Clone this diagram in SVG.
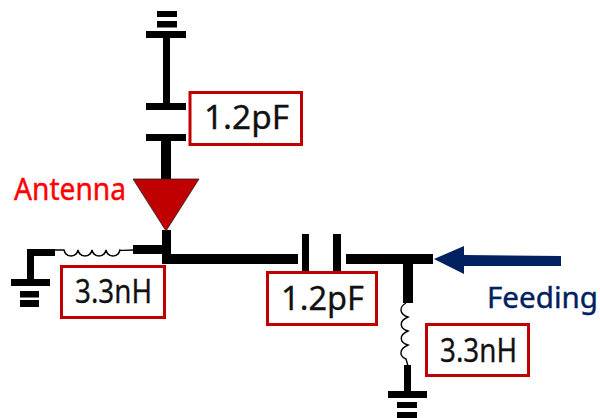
<svg xmlns="http://www.w3.org/2000/svg" width="600" height="418" viewBox="0 0 600 418">
<style>
.w{fill:#000}
.box{fill:#fff;stroke:#c00000;stroke-width:3}
.coil{fill:none;stroke:#000;stroke-width:1.4}
text{font-family:"Noto Sans","Open Sans","Liberation Sans",sans-serif}
.val{font-size:32px;fill:#111;stroke:#111;stroke-width:.3}
</style>
<rect width="600" height="418" fill="#fff"/>
<g id="connectors">
<rect class="w" x="163" y="38" width="7" height="66"/>
<rect class="w" x="161" y="141" width="10" height="38"/>
<rect class="w" x="162" y="230" width="9" height="30"/>
<rect class="w" x="162" y="254" width="136" height="10"/>
<rect class="w" x="133" y="245" width="30" height="9"/>
<path class="coil" d="M55 250H64C66 258 76 258 78 250C80 258 90 258 92 250C94 258 104 258 106 250C108 258 118 258 120 250C121 251 122 250 133 250"/>
<rect class="w" x="27" y="249" width="28" height="7"/>
<rect class="w" x="27" y="249" width="7" height="31"/>
<rect class="w" x="346" y="254" width="87" height="10"/>
<rect class="w" x="403" y="264" width="10" height="39"/>
<path class="coil" d="M406 303C399 307 399 314 408 317C399 321 399 328 408 331C399 335 399 342 408 345C399 349 399 356 406 359L408 366"/>
<rect class="w" x="404" y="365" width="7" height="27"/>
</g>
<g id="ground-top">
<rect class="w" x="157" y="11" width="20" height="6"/>
<rect class="w" x="157" y="21" width="20" height="6.500"/>
<rect class="w" x="146" y="31" width="40" height="7"/>
</g>
<g id="cap-top">
<rect class="w" x="146" y="103" width="40" height="7"/>
<rect class="w" x="146" y="134" width="40" height="7"/>
</g>
<g id="label-cap-top">
<rect class="box" x="190" y="92.500" width="111.500" height="52"/>
<text class="val" x="204" y="129" textLength="85" lengthAdjust="spacingAndGlyphs">1.2pF</text>
</g>
<g id="antenna">
<polygon points="133,179 199,179 166,231" fill="#c00000" stroke="#222" stroke-width="0.8"/>
<text x="14" y="200" font-size="30" fill="#ff0000" stroke="#ff0000" stroke-width=".4" textLength="112" lengthAdjust="spacingAndGlyphs">Antenna</text>
</g>
<g id="ground-left">
<rect class="w" x="11" y="279" width="39" height="7"/>
<rect class="w" x="20" y="291" width="19" height="6.500"/>
<rect class="w" x="20" y="300" width="19" height="7"/>
</g>
<g id="label-ind-left">
<rect class="box" x="61.500" y="266.500" width="103" height="51"/>
<text class="val" x="75" y="303" textLength="77" lengthAdjust="spacingAndGlyphs">3.3nH</text>
</g>
<g id="cap-series">
<rect class="w" x="302" y="234" width="7" height="38"/>
<rect class="w" x="333" y="234" width="8" height="38"/>
</g>
<g id="label-cap-series">
<rect class="box" x="267.500" y="272.500" width="109" height="52"/>
<text class="val" x="281" y="310" textLength="83" lengthAdjust="spacingAndGlyphs">1.2pF</text>
</g>
<g id="feeding">
<polygon points="434,259 464,246 464,255 561,256 561,266 464,266 464,274" fill="#002060"/>
<text x="487" y="308" font-size="29" fill="#002060" stroke="#002060" stroke-width=".4" textLength="111" lengthAdjust="spacingAndGlyphs">Feeding</text>
</g>
<g id="label-ind-right">
<rect class="box" x="426.500" y="324.500" width="102" height="51"/>
<text class="val" x="440" y="362" textLength="77" lengthAdjust="spacingAndGlyphs">3.3nH</text>
</g>
<g id="ground-right">
<rect class="w" x="388" y="391" width="39" height="7"/>
<rect class="w" x="397" y="402" width="20" height="6"/>
<rect class="w" x="397" y="412" width="20" height="6"/>
</g>
</svg>
